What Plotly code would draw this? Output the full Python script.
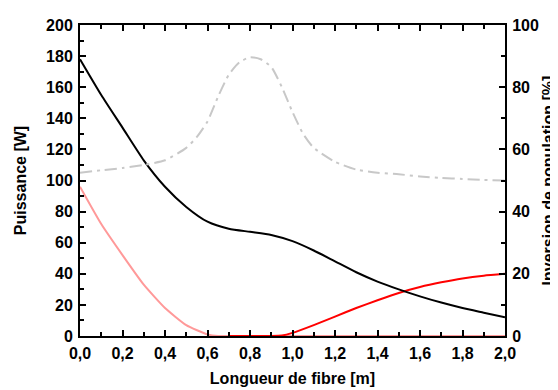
import plotly.graph_objs as go

# ========================= données =========================

# Puissance de pompe résiduelle (noir), axe gauche [W]
x_pompe = [0.0, 0.1, 0.2, 0.3, 0.4, 0.5, 0.6, 0.7, 0.8, 0.9, 1.0,
           1.1, 1.2, 1.3, 1.4, 1.5, 1.6, 1.7, 1.8, 1.9, 2.0]
p_pompe = [178, 155, 134, 113, 96, 83, 73.5, 69, 67, 65, 61,
           55, 48, 41, 35, 30, 25.5, 21.5, 18, 15, 12]

# Signal contra-propagatif (rose), axe gauche [W]
x_rose = [0.0, 0.1, 0.2, 0.3, 0.4, 0.5, 0.6, 0.65, 0.7, 1.0, 1.5, 2.0]
p_rose = [96, 72, 52, 33, 18, 7, 1, 0, 0, 0, 0, 0]

# Signal co-propagatif (rouge), axe gauche [W]
x_rouge = [0.7, 0.8, 0.9, 0.95, 1.0, 1.1, 1.2, 1.3, 1.4, 1.5, 1.6, 1.7, 1.8, 1.9, 2.0]
p_rouge = [0, 0, 0, 0.3, 2, 7, 12.5, 18, 23, 27.7, 31.5, 34.5, 37, 38.8, 40]

# Inversion de population (gris), axe droit [%]
x_inv = [0.0, 0.1, 0.2, 0.3, 0.4, 0.5, 0.55, 0.6, 0.65, 0.7, 0.75, 0.8, 0.85,
         0.9, 0.95, 1.0, 1.05, 1.1, 1.2, 1.3, 1.4, 1.5, 1.6, 1.7, 1.8, 1.9, 2.0]
inv = [52.5, 53.3, 54, 55, 56.5, 60.5, 64, 69, 77, 84, 88, 89.6, 89,
       86.5, 80, 72, 65, 60.5, 56, 53.5, 52.5, 52, 51.3, 50.8, 50.5, 50.2, 50]

FONT = "Liberation Sans, Arial, sans-serif"

# ========================= figure =========================

fig = go.Figure()

fig.add_trace(go.Scatter(x=x_inv, y=inv, yaxis="y2", mode="lines",
                         line=dict(color="#c8c8c8", width=2, dash="12px,5px,3px,5px",
                                   shape="spline", smoothing=0.6)))
fig.add_trace(go.Scatter(x=x_rose, y=p_rose, mode="lines",
                         line=dict(color="#ff9999", width=2, shape="spline", smoothing=0.5)))
fig.add_trace(go.Scatter(x=x_rouge, y=p_rouge, mode="lines",
                         line=dict(color="#ff0000", width=2, shape="spline", smoothing=0.5)))
fig.add_trace(go.Scatter(x=x_pompe, y=p_pompe, mode="lines",
                         line=dict(color="black", width=2, shape="spline", smoothing=0.6)))

tick_font = dict(family=FONT, size=16, color="black", weight="bold")
title_font = dict(family=FONT, size=16, color="black", weight="bold")

fig.update_layout(
    width=558, height=390,
    margin=dict(l=72, r=61, t=17, b=62),
    paper_bgcolor="white", plot_bgcolor="white",
    showlegend=False,
    separators=",.",
    xaxis=dict(
        range=[0, 2], dtick=0.2, tick0=0, tickformat=".1f",
        showgrid=False, zeroline=False, automargin=False,
        showline=True, linecolor="black", linewidth=2, mirror="ticks",
        ticks="inside", ticklen=6, tickwidth=2, tickcolor="black",
        minor=dict(dtick=0.1, ticks="inside", ticklen=4, tickwidth=2, tickcolor="black"),
        tickfont=tick_font, ticklabelstandoff=2,
        title=dict(text="Longueur de fibre [m]", font=title_font, standoff=12),
    ),
    yaxis=dict(
        range=[0, 200], dtick=20, tick0=0,
        showgrid=False, zeroline=False, automargin=False,
        showline=True, linecolor="black", linewidth=2,
        ticks="inside", ticklen=6, tickwidth=2, tickcolor="black",
        minor=dict(dtick=10, ticks="inside", ticklen=4, tickwidth=2, tickcolor="black"),
        tickfont=tick_font, ticklabelstandoff=2,
        title=dict(text="Puissance [W]", font=title_font, standoff=15),
    ),
    yaxis2=dict(
        range=[0, 100], dtick=20, tick0=0, overlaying="y", side="right",
        showgrid=False, zeroline=False, automargin=False,
        showline=True, linecolor="black", linewidth=2,
        ticks="inside", ticklen=6, tickwidth=2, tickcolor="black",
        minor=dict(dtick=10, ticks="inside", ticklen=4, tickwidth=2, tickcolor="black"),
        tickfont=tick_font, ticklabelstandoff=2,
        title=dict(text="Inversion de population [%]", font=title_font, standoff=5),
    ),
)

fig.write_html("out.html")
